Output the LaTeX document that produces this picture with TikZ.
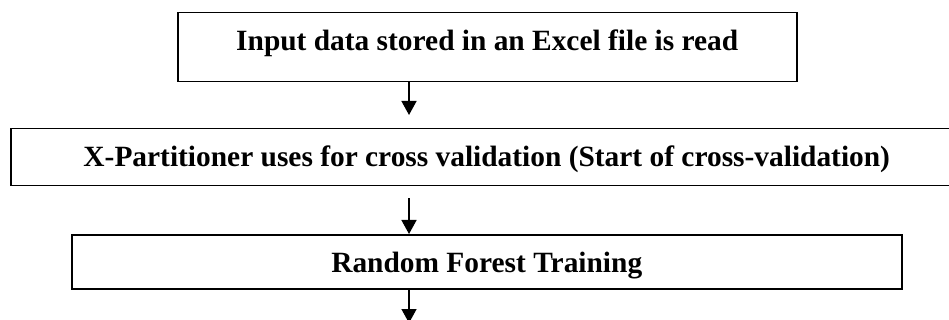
\documentclass[tikz,border=0pt]{standalone}
\usepackage{fontspec}
\setmainfont{Liberation Serif}
\usetikzlibrary{arrows.meta}
\begin{document}
\begin{tikzpicture}[x=1pt,y=-1pt,
  stepbox/.style={draw, line width=1.5pt, inner sep=0pt, text height=38pt,
    font=\fontsize{29.4}{35}\selectfont\bfseries, anchor=north west},
  arr/.style={line width=1.5pt, -{Triangle[length=14pt,width=15pt]}}]
\useasboundingbox (0,0) rectangle (949,320);
\node[stepbox, minimum width=619pt, text depth=31pt] (b1) at (177,12) {Input data stored in an Excel file is read};
\node[stepbox, minimum width=952pt, text depth=19pt] (b2) at (10,128) {X-Partitioner uses for cross validation (Start of cross-validation)};
\node[stepbox, minimum width=830pt, text depth=16pt] (b3) at (71,234) {Random Forest Training};
\coordinate (ax) at (409,0);
\coordinate (end3) at (409,323);
\draw[arr] (b1.south -| ax) -- ([yshift=13pt]b2.north -| ax);
\draw[arr] ([yshift=-12pt]b2.south -| ax) -- (b3.north -| ax);
\draw[arr] (b3.south -| ax) -- (end3);
\end{tikzpicture}
\end{document}
